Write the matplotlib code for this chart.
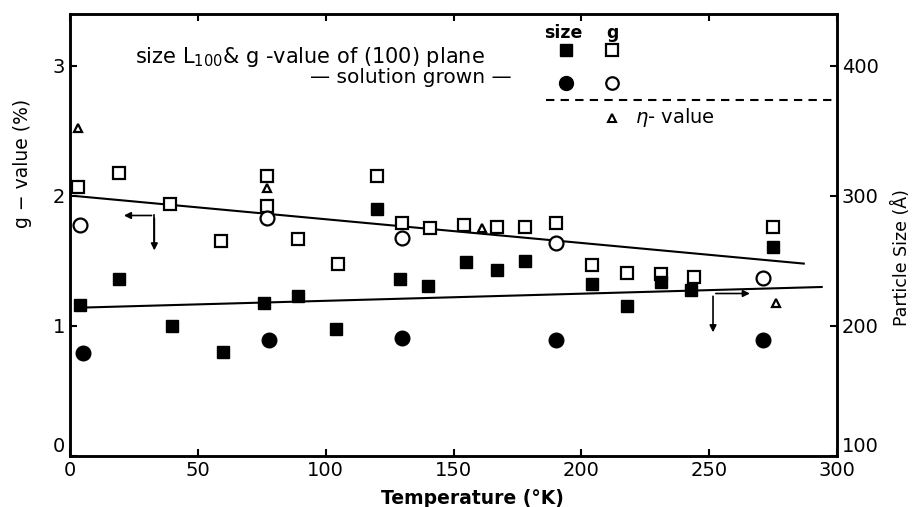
import matplotlib.pyplot as plt

# g-value (%) data, left axis
g_sq_T = [3, 19, 39, 59, 77, 77, 89, 105, 120, 130, 141, 154, 167, 178, 190, 204, 218, 231, 244, 275]
g_sq_v = [2.07, 2.18, 1.94, 1.65, 2.15, 1.92, 1.67, 1.48, 2.15, 1.79, 1.75, 1.78, 1.76, 1.76, 1.79, 1.47, 1.41, 1.40, 1.38, 1.76]
g_ci_T = [4, 77, 130, 190, 271]
g_ci_v = [1.78, 1.83, 1.68, 1.64, 1.37]
eta_T = [3, 77, 161, 276]
eta_v = [2.52, 2.06, 1.75, 1.18]

# particle size (A) data, right axis
s_sq_T = [4, 19, 40, 60, 76, 89, 104, 120, 129, 140, 155, 167, 178, 204, 218, 231, 243, 275]
s_sq_v = [216, 236, 200, 180, 218, 223, 198, 290, 236, 231, 249, 243, 250, 232, 215, 234, 228, 261]
s_ci_T = [5, 78, 130, 190, 271]
s_ci_v = [179, 189, 191, 189, 189]

# fitted lines
g_line_T = [2, 287]
g_line_v = [2.00, 1.48]
s_line_T = [2, 294]
s_line_v = [214, 230]

fig = plt.figure(figsize=(9.17, 5.07), dpi=100)
ax = fig.add_axes([0.0763, 0.1006, 0.8365, 0.8718])
ax2 = ax.twinx()

ax.set_xlim(0, 300)
ax.set_ylim(0, 3.4)
ax2.set_ylim(100, 440)

ax.plot(g_line_T, g_line_v, color='black', lw=1.5)
ax2.plot(s_line_T, s_line_v, color='black', lw=1.5)

ax.plot(g_sq_T, g_sq_v, 's', mfc='white', mec='black', mew=1.6, ms=8)
ax.plot(g_ci_T, g_ci_v, 'o', mfc='white', mec='black', mew=1.6, ms=10)
ax.plot(eta_T, eta_v, '^', mfc='white', mec='black', mew=1.6, ms=6)
ax2.plot(s_sq_T, s_sq_v, 's', color='black', ms=8.5)
ax2.plot(s_ci_T, s_ci_v, 'o', color='black', ms=10.5)

# arrows showing which axis each line belongs to
arr = dict(arrowstyle='-|>', color='black', lw=1.2, mutation_scale=10)
ax.plot([33, 33], [1.85, 1.62], color='black', lw=1.2)
ax.annotate('', xy=(20, 1.85), xytext=(33, 1.85), arrowprops=arr)
ax.annotate('', xy=(33, 1.56), xytext=(33, 1.85), arrowprops=arr)
ax.annotate('', xy=(267, 1.25), xytext=(251.5, 1.25), arrowprops=arr)
ax.annotate('', xy=(251.5, 0.93), xytext=(251.5, 1.25), arrowprops=arr)

# legend block drawn by hand
ax.text(25.5, 3.07, 'size L$_{100}$& g -value of (100) plane', fontsize=15, va='center')
ax.text(94, 2.91, '— solution grown —', fontsize=14.5, va='center')
ax.text(193, 3.25, 'size', fontsize=12.5, fontweight='bold', ha='center', va='center')
ax.text(212, 3.25, 'g', fontsize=12.5, fontweight='bold', ha='center', va='center')
ax.plot([194], [3.12], 's', color='black', ms=8)
ax.plot([212], [3.12], 's', mfc='white', mec='black', mew=1.6, ms=8)
ax.plot([194], [2.87], 'o', color='black', ms=10)
ax.plot([212], [2.87], 'o', mfc='white', mec='black', mew=1.6, ms=9)
ax.plot([186, 300], [2.74, 2.74], color='black', lw=1.5, ls=(0, (4, 3)))
ax.plot([212], [2.60], '^', mfc='white', mec='black', mew=1.5, ms=5.5)
ax.text(221, 2.60, '$\\eta$- value', fontsize=14, va='center')

ax.set_xticks([0, 50, 100, 150, 200, 250, 300])
ax.set_yticks([0, 1, 2, 3])
ax2.set_yticks([100, 200, 300, 400])
ax.tick_params(direction='in', length=5, width=1.5, labelsize=14, top=True)
ax2.tick_params(direction='in', length=5, width=1.5, labelsize=14)
for a in (ax, ax2):
    for s in a.spines.values():
        s.set_linewidth(1.8)

# lift the bottom labels off the corners like the original
ax.get_yticklabels()[0].set_va('bottom')
ax2.get_yticklabels()[0].set_va('bottom')

ax.set_xlabel('Temperature (°K)', fontsize=13.5, fontweight='bold')
ax.xaxis.set_label_coords(0.525, -0.075)
ax.set_ylabel('g − value (%)', fontsize=13.5)
ax.yaxis.set_label_coords(-0.049, 0.663)
ax2.set_ylabel('Particle Size (Å)', fontsize=12.5)
ax2.yaxis.set_label_coords(1.072, 0.448)

fig.savefig('out.png', dpi=100)
